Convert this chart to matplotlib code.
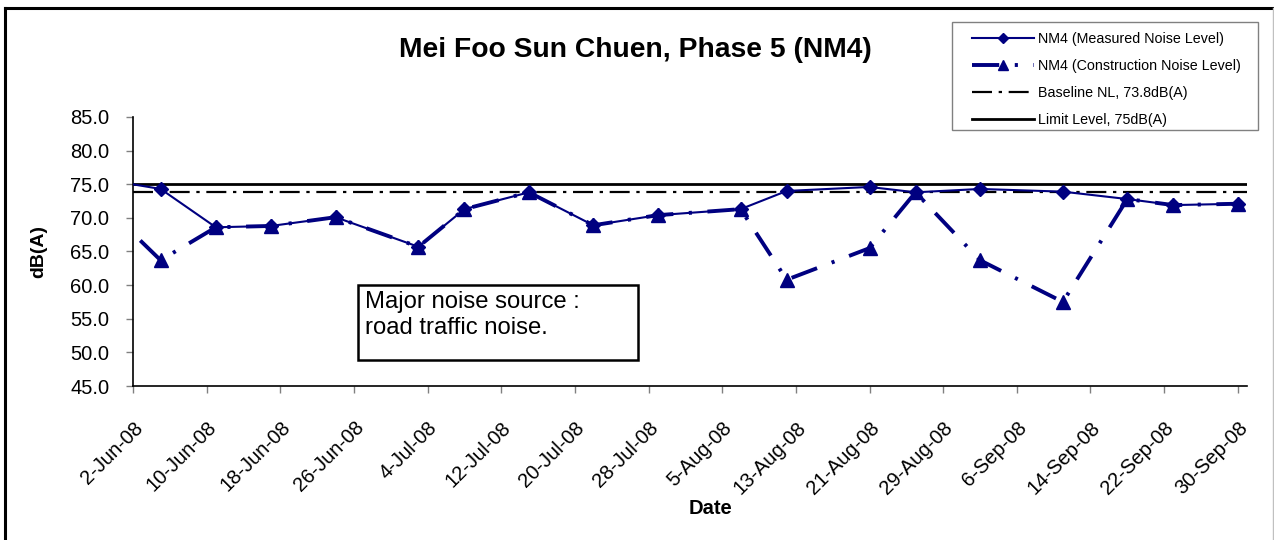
import numpy as np
import matplotlib
matplotlib.use("Agg")
import matplotlib.pyplot as plt
from matplotlib.lines import Line2D
from matplotlib.patches import Rectangle
import datetime as dt

plt.rcParams['font.family'] = ['Liberation Sans', 'DejaVu Sans']

# monitoring dates and levels
dates = ["2008-05-29", "2008-06-05", "2008-06-11", "2008-06-17", "2008-06-24",
         "2008-07-03", "2008-07-08", "2008-07-15", "2008-07-22", "2008-07-29",
         "2008-08-07", "2008-08-12", "2008-08-21", "2008-08-26", "2008-09-02",
         "2008-09-11", "2008-09-18", "2008-09-23", "2008-09-30"]
measured = [75.9, 74.3, 68.6, 68.8, 70.1, 65.7, 71.3, 73.8, 68.9, 70.4,
            71.3, 74.0, 74.6, 73.8, 74.3, 73.9, 72.8, 71.9, 72.1]
construction = [73.0, 63.7, 68.6, 68.8, 70.1, 65.7, 71.3, 73.8, 68.9, 70.4,
                71.3, 60.8, 65.5, 73.8, 63.7, 57.5, 72.8, 71.9, 72.1]
baseline = 73.8
limit = 75.0

tick_dates = ["2008-06-02", "2008-06-10", "2008-06-18", "2008-06-26", "2008-07-04",
              "2008-07-12", "2008-07-20", "2008-07-28", "2008-08-05", "2008-08-13",
              "2008-08-21", "2008-08-29", "2008-09-06", "2008-09-14", "2008-09-22",
              "2008-09-30"]
tick_labels = ["2-Jun-08", "10-Jun-08", "18-Jun-08", "26-Jun-08", "4-Jul-08",
               "12-Jul-08", "20-Jul-08", "28-Jul-08", "5-Aug-08", "13-Aug-08",
               "21-Aug-08", "29-Aug-08", "6-Sep-08", "14-Sep-08", "22-Sep-08",
               "30-Sep-08"]

x = [dt.datetime.strptime(d, "%Y-%m-%d") for d in dates]
xt = [dt.datetime.strptime(d, "%Y-%m-%d") for d in tick_dates]
x0 = dt.datetime(2008, 6, 2)
x1 = dt.datetime(2008, 10, 1)

W, H = 1274, 540
fig = plt.figure(figsize=(W / 100, H / 100), dpi=100)
ax = fig.add_axes([133 / W, 1 - 386 / H, (1247 - 133) / W, (386 - 117) / H])

navy = "#000080"
ax.plot(x, construction, color=navy, lw=2.8, linestyle=(0, (7, 4, 0.8, 4)),
        marker="^", markersize=10, label="NM4 (Construction Noise Level)", zorder=3)
ax.plot(x, measured, color=navy, lw=1.5, marker="D", markersize=7,
        label="NM4 (Measured Noise Level)", zorder=4)
ax.axhline(baseline, color="black", lw=1.6, linestyle=(0, (9, 3, 1.5, 3)),
           label="Baseline NL, 73.8dB(A)", zorder=2)
ax.axhline(limit, color="black", lw=2, label="Limit Level, 75dB(A)", zorder=2)

ax.set_xlim(x0, x1)
ax.set_ylim(45, 85)
ax.set_yticks(np.arange(45, 85.1, 5))
ax.yaxis.set_major_formatter(plt.FormatStrFormatter("%.1f"))
ax.set_xticks(xt)
ax.set_xticklabels(tick_labels, rotation=45, ha="right", rotation_mode="anchor")
ax.tick_params(axis="both", labelsize=14.5, length=5, color="#808080", width=1)
ax.tick_params(axis="x", pad=18)
ax.tick_params(axis="y", pad=12)

for s in ["top", "right"]:
    ax.spines[s].set_visible(False)
for s in ["left", "bottom"]:
    ax.spines[s].set_linewidth(1.2)

ax.set_ylabel("dB(A)", fontsize=14, fontweight="bold")
ax.yaxis.set_label_coords((47 - 133) / (1247 - 133), 0.5)
fig.text(710 / W, 1 - 508 / H, "Date", fontsize=14.5, fontweight="bold",
         ha="center", va="center")

fig.text(635 / W, 1 - 50 / H, "Mei Foo Sun Chuen, Phase 5 (NM4)", fontsize=20.3,
         fontweight="bold", ha="center", va="center")

# legend frame drawn separately, entries in the chart's order
fig.add_artist(Rectangle((952 / W, 1 - 130 / H), 306 / W, 108 / H,
                         transform=fig.transFigure, fill=False,
                         edgecolor="#808080", lw=1))
h, l = ax.get_legend_handles_labels()
order = [1, 0, 2, 3]
leg = fig.legend([h[i] for i in order], [l[i] for i in order],
                 loc="upper left", bbox_to_anchor=(972 / W, 1 - 32 / H),
                 fontsize=10.3, handlelength=4.3, handletextpad=0.3,
                 labelspacing=0.9, frameon=False, borderpad=0,
                 borderaxespad=0, markerscale=0.7)

# text box
fig.add_artist(Rectangle((358 / W, 1 - 360 / H), 280 / W, 75 / H,
                         transform=fig.transFigure, fill=False,
                         edgecolor="black", lw=1.8))
fig.text(365 / W, 1 - 291 / H, "Major noise source :\nroad traffic noise.",
         fontsize=17.2, ha="left", va="top", linespacing=1.25)

# outer frame
fig.add_artist(Line2D([5 / W, 5 / W], [0, 1 - 8 / H], transform=fig.transFigure,
                      color="black", lw=2.2))
fig.add_artist(Line2D([5 / W, 1273 / W], [1 - 8 / H, 1 - 8 / H],
                      transform=fig.transFigure, color="black", lw=2.2))
fig.add_artist(Line2D([1273 / W, 1273 / W], [0, 1 - 8 / H],
                      transform=fig.transFigure, color="#c0c0c0", lw=1))

fig.savefig("out.png", dpi=100)
